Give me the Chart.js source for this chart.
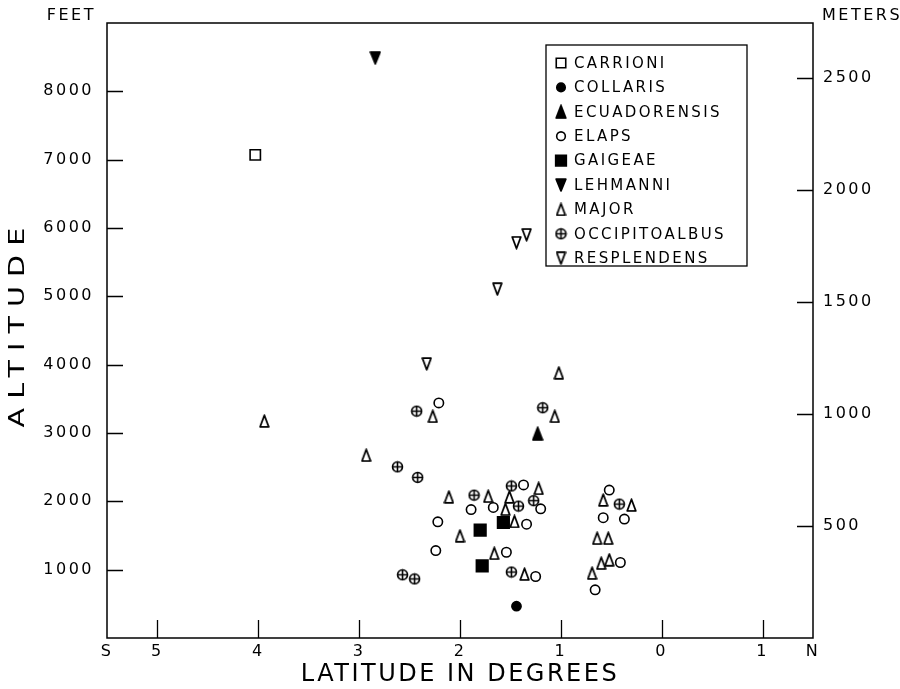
<!DOCTYPE html>
<html>
<head>
<meta charset="utf-8">
<script src="https://cdn.jsdelivr.net/npm/chart.js@4.4.1/dist/chart.umd.min.js"></script>
<style>
  html, body { margin: 0; padding: 0; background: #fff; }
  #wrap { width: 900px; height: 689px; }
</style>
</head>
<body>
<div id="wrap"><canvas id="chart" width="900" height="689"></canvas></div>
<script>
// latitude in degrees (south negative), altitude in feet
const carrioni = [[-4.03, 7070]];
const collaris = [[-1.44, 465]];
const ecuadorensis = [[-1.23, 2990]];
const elaps = [
  [-2.21, 3440], [-2.22, 1700], [-2.24, 1280], [-1.89, 1880], [-1.67, 1910],
  [-1.37, 2240], [-1.2, 1890], [-1.34, 1665], [-1.54, 1255], [-1.25, 900],
  [-0.52, 2165], [-0.58, 1760], [-0.37, 1740], [-0.41, 1105], [-0.66, 705],
];
const gaigeae = [[-1.8, 1580], [-1.57, 1690], [-1.78, 1055]];
const lehmanni = [[-2.84, 8490]];
const major = [
  [-3.94, 3175], [-2.93, 2675], [-2.27, 3245], [-1.02, 3880], [-1.06, 3245],
  [-2.11, 2065], [-1.72, 2075], [-1.51, 2065], [-1.22, 2190], [-1.55, 1885],
  [-1.46, 1705], [-2.0, 1495], [-1.66, 1240], [-1.36, 935],
  [-0.58, 2020], [-0.3, 1945], [-0.64, 1460], [-0.53, 1460], [-0.6, 1095],
  [-0.52, 1145], [-0.69, 950],
];
const occipitoalbus = [
  [-2.43, 3320], [-2.62, 2505], [-2.42, 2350], [-2.57, 925], [-2.45, 865],
  [-1.86, 2090], [-1.49, 2225], [-1.42, 1930], [-1.27, 2010], [-1.18, 3370],
  [-1.49, 965], [-0.42, 1960],
];
const resplendens = [[-1.44, 5785], [-1.34, 5900], [-1.63, 5105], [-2.33, 4010]];

const latTicks = [-5.5, -5, -4, -3, -2, -1, 0, 1, 1.5];
const latLabels = ["S", "5", "4", "3", "2", "1", "0", "1", "N"];
const feetTicks = [1000, 2000, 3000, 4000, 5000, 6000, 7000, 8000];
const meterTicks = [500, 1000, 1500, 2000, 2500];
const [minLat, maxLat] = [-5.5, 1.5];
const [minFeet, maxFeet] = [0, 9000];
const FT_TO_M = 0.3048;

const INK = "#000";
const FONT = "'DejaVu Sans', sans-serif";

function marker(w, h, draw) {
  const c = document.createElement("canvas");
  c.width = w;
  c.height = h;
  const g = c.getContext("2d");
  g.strokeStyle = INK;
  g.fillStyle = INK;
  g.lineWidth = 1.8;
  g.lineJoin = "round";
  draw(g, w, h);
  return c;
}
function triangle(up, filled, w, h) {
  return marker(w, h, (g) => {
    g.beginPath();
    if (up) {
      g.moveTo(w / 2, 1.2); g.lineTo(w - 1.2, h - 1.2); g.lineTo(1.2, h - 1.2);
    } else {
      g.moveTo(1.2, 1.2); g.lineTo(w - 1.2, 1.2); g.lineTo(w / 2, h - 1.2);
    }
    g.closePath();
    if (filled) g.fill();
    g.stroke();
  });
}
const circlePlus = marker(13, 13, (g) => {
  g.lineWidth = 1.6;
  g.beginPath();
  g.arc(6.5, 6.5, 5, 0, Math.PI * 2);
  g.moveTo(1.5, 6.5); g.lineTo(11.5, 6.5);
  g.moveTo(6.5, 1.5); g.lineTo(6.5, 11.5);
  g.stroke();
});

function series(label, points, style) {
  return Object.assign({
    label,
    data: points.map(([x, y]) => ({ x, y })),
    borderColor: INK,
    backgroundColor: "rgba(0,0,0,0)",
    borderWidth: 1.6,
    pointHoverRadius: style.pointRadius,
  }, style);
}

const datasets = [
  series("CARRIONI", carrioni, { pointStyle: "rect", pointRadius: 7.3 }),
  series("COLLARIS", collaris, { pointStyle: "circle", pointRadius: 4.6, backgroundColor: INK }),
  series("ECUADORENSIS", ecuadorensis, { pointStyle: triangle(true, true, 12, 15), pointRadius: 6 }),
  series("ELAPS", elaps, { pointStyle: "circle", pointRadius: 4.7 }),
  series("GAIGEAE", gaigeae, { pointStyle: "rect", pointRadius: 8.2, backgroundColor: INK }),
  series("LEHMANNI", lehmanni, { pointStyle: triangle(false, true, 12, 14), pointRadius: 6 }),
  series("MAJOR", major, { pointStyle: triangle(true, false, 11, 14), pointRadius: 6 }),
  series("OCCIPITOALBUS", occipitoalbus, { pointStyle: circlePlus, pointRadius: 6 }),
  series("RESPLENDENS", resplendens, { pointStyle: triangle(false, false, 11, 14), pointRadius: 6 }),
];

const framePlugin = {
  id: "frame",
  beforeDraw(chart) {
    chart.ctx.letterSpacing = "2.5px";
  },
  afterDatasetsDraw(chart) {
    const { ctx, chartArea: a, scales } = chart;
    ctx.save();
    ctx.strokeStyle = INK;
    ctx.lineWidth = 1.5;
    ctx.strokeRect(a.left, a.top, a.right - a.left, a.bottom - a.top);
    ctx.beginPath();
    scales.x.ticks.forEach((t, i) => {
      if (i === 0 || i === scales.x.ticks.length - 1) return;
      const px = Math.round(scales.x.getPixelForValue(t.value)) + 0.5;
      ctx.moveTo(px, a.bottom); ctx.lineTo(px, a.bottom - 18);
    });
    scales.y.ticks.forEach((t) => {
      const py = Math.round(scales.y.getPixelForValue(t.value)) + 0.5;
      ctx.moveTo(a.left, py); ctx.lineTo(a.left + 16, py);
    });
    scales.y2.ticks.forEach((t) => {
      const py = Math.round(scales.y2.getPixelForValue(t.value)) + 0.5;
      ctx.moveTo(a.right, py); ctx.lineTo(a.right - 16, py);
    });
    ctx.lineWidth = 1.3;
    ctx.stroke();
    ctx.restore();
  },
  afterDraw(chart) {
    const { ctx } = chart;
    ctx.save();
    ctx.fillStyle = INK;
    ctx.strokeStyle = INK;

    // unit labels
    ctx.font = "16px " + FONT;
    ctx.letterSpacing = "2.5px";
    ctx.textBaseline = "middle";
    ctx.textAlign = "right";
    ctx.fillText("FEET", 96, 16);
    ctx.textAlign = "left";
    ctx.fillText("METERS", 822, 16);

    // legend
    const box = { left: 546, top: 45, right: 747, bottom: 266 };
    ctx.lineWidth = 1.3;
    ctx.strokeRect(box.left, box.top, box.right - box.left, box.bottom - box.top);
    ctx.font = "15px " + FONT;
    ctx.letterSpacing = "2.4px";
    chart.data.datasets.forEach((ds, i) => {
      const y = 63 + i * 24.4;
      ctx.fillStyle = ds.backgroundColor;
      ctx.strokeStyle = INK;
      ctx.lineWidth = ds.borderWidth;
      Chart.helpers.drawPoint(ctx, {
        pointStyle: ds.pointStyle,
        radius: ds.pointRadius * 0.92,
        rotation: 0,
        borderWidth: ds.borderWidth,
      }, 561, y);
      ctx.fillStyle = INK;
      ctx.fillText(ds.label, 574, y + 1);
    });

    // y axis title
    ctx.translate(18, 323);
    ctx.rotate(-Math.PI / 2);
    ctx.scale(1.3, 1);
    ctx.font = "22px " + FONT;
    ctx.letterSpacing = "7px";
    ctx.textAlign = "center";
    ctx.textBaseline = "middle";
    ctx.fillText("ALTITUDE", 0, 0);
    ctx.restore();
  },
};

Chart.defaults.font.family = FONT;
Chart.defaults.font.size = 16;
Chart.defaults.color = INK;

const ctx = document.getElementById("chart");
const chart = new Chart(ctx, {
  type: "scatter",
  data: { datasets },
  plugins: [framePlugin],
  options: {
    responsive: false,
    animation: false,
    events: [],
    layout: { padding: { top: 23, left: 0, right: 0, bottom: 0 } },
    plugins: {
      legend: { display: false },
      tooltip: { enabled: false },
    },
    scales: {
      x: {
        type: "linear",
        position: "bottom",
        min: minLat,
        max: maxLat,
        afterBuildTicks: (s) => { s.ticks = latTicks.map((value) => ({ value })); },
        afterFit: (s) => { s.height = 51; },
        ticks: {
          autoSkip: false,
          maxRotation: 0,
          padding: 4,
          callback: (v, i) => latLabels[i],
        },
        grid: { display: false, drawTicks: false },
        border: { display: false },
        title: {
          display: true,
          text: "LATITUDE IN DEGREES",
          font: { size: 24 },
          padding: { top: 0, bottom: 0 },
        },
      },
      y: {
        type: "linear",
        position: "left",
        min: minFeet,
        max: maxFeet,
        afterBuildTicks: (s) => { s.ticks = feetTicks.map((value) => ({ value })); },
        afterFit: (s) => { s.width = 107; },
        ticks: { autoSkip: false, padding: 13, callback: (v) => String(v) },
        grid: { display: false, drawTicks: false },
        border: { display: false },
      },
      y2: {
        type: "linear",
        position: "right",
        min: minFeet * FT_TO_M,
        max: maxFeet * FT_TO_M,
        afterBuildTicks: (s) => { s.ticks = meterTicks.map((value) => ({ value })); },
        afterFit: (s) => { s.width = 87; },
        ticks: { autoSkip: false, padding: 10, callback: (v) => String(v) },
        grid: { display: false, drawTicks: false },
        border: { display: false },
      },
    },
  },
});
</script>
</body>
</html>
